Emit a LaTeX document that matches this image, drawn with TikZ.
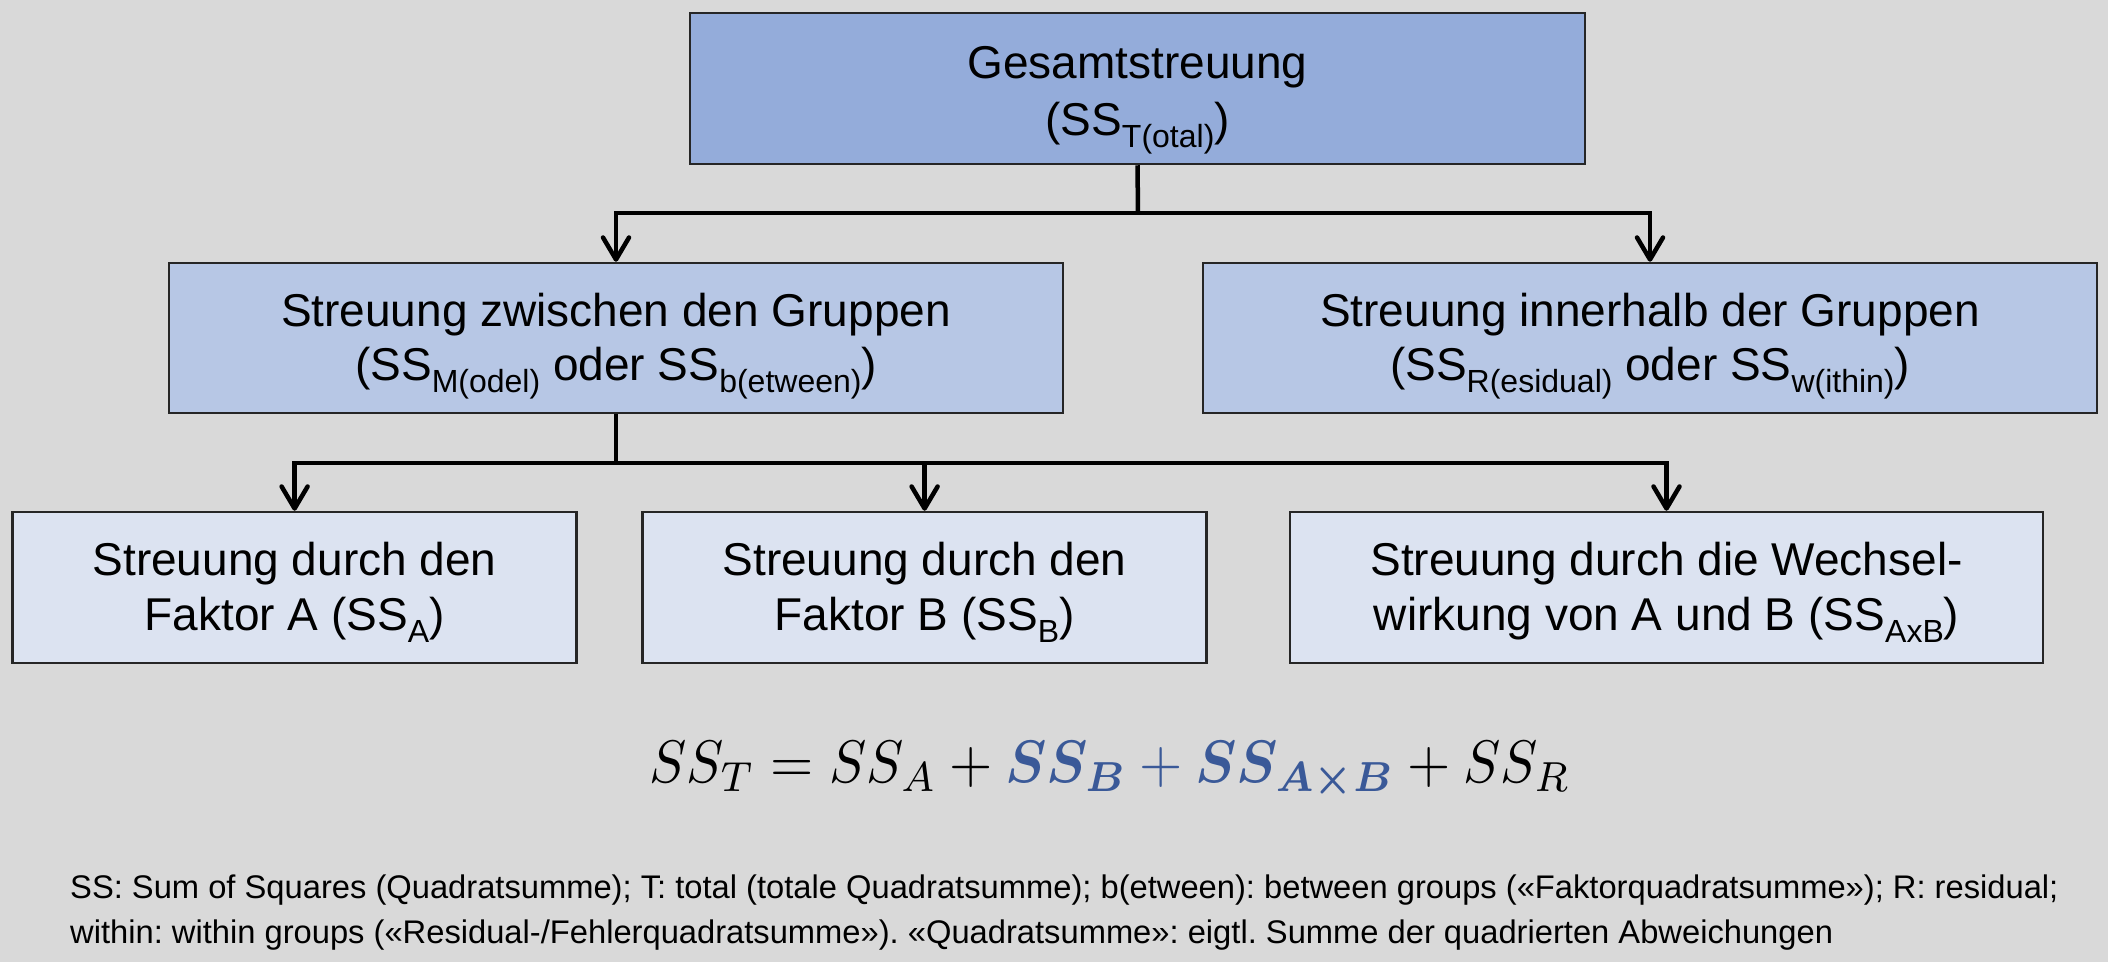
\documentclass[tikz,border=0pt]{standalone}
\usepackage[no-math]{fontspec}
\setmainfont{Liberation Sans}
\usepackage{amsmath,bm,graphicx}
\usetikzlibrary{arrows.meta}
\definecolor{bgc}{RGB}{217,217,217}
\definecolor{topfill}{RGB}{148,172,218}
\definecolor{midfill}{RGB}{183,199,229}
\definecolor{lowfill}{RGB}{220,227,241}
\definecolor{eqblue}{RGB}{58,89,152}
\newcommand\sbs[1]{\raisebox{-12pt}{\fontsize{32}{32}\selectfont #1}}
\tikzset{
  box/.style={draw=black!85, line width=2.5pt, inner sep=0pt},
  topbox/.style={box, fill=topfill, minimum width=895pt, minimum height=151pt},
  midbox/.style={box, fill=midfill, minimum width=894pt, minimum height=150pt},
  lowbox/.style={box, fill=lowfill, minimum height=151pt},
  btext/.style={inner sep=0pt, anchor=base, font={\fontsize{46}{55}\selectfont}, text=black},
  conn/.style={line width=4.5pt, black},
  arr/.style={conn, -{Straight Barb[length=22pt,width=26pt,round]}},
  foot/.style={font={\fontsize{32.7}{40}\selectfont\frenchspacing}, inner sep=0pt, anchor=base west},
}
\begin{document}
\begin{tikzpicture}[x=1pt,y=-1pt]
\fill[bgc] (0,0) rectangle (2108,962);
\useasboundingbox (0,0) rectangle (2108,962);
% boxes
\node[topbox] (top) at (1137.5,88.5) {};
\node[midbox] (midL) at (616,338) {};
\node[midbox] (midR) at (1650,338) {};
\node[lowbox, minimum width=564pt] (lowA) at (294.6,587.5) {};
\node[lowbox, minimum width=564pt] (lowB) at (924.6,587.5) {};
\node[lowbox, minimum width=753pt] (lowAB) at (1666.5,587.5) {};
% texts
\node[btext] (topa) at (top.center |- 0,78) {Gesamtstreuung};
\node[btext] (topb) at (top.center |- 0,135) {(SS\sbs{T(otal)})};
\node[btext] (midLa) at (midL.center |- 0,326) {Streuung zwischen den Gruppen};
\node[btext] (midLb) at (midL.center |- 0,380) {(SS\sbs{M(odel)} oder SS\sbs{b(etween)})};
\node[btext] (midRa) at (midR.center |- 0,326) {Streuung innerhalb der Gruppen};
\node[btext] (midRb) at (midR.center |- 0,380) {(SS\sbs{R(esidual)} oder SS\sbs{w(ithin)})};
\node[btext] (lowAa) at (lowA.center |- 0,575) {Streuung durch den};
\node[btext] (lowAb) at (lowA.center |- 0,630) {Faktor A (SS\sbs{A})};
\node[btext] (lowBa) at (lowB.center |- 0,575) {Streuung durch den};
\node[btext] (lowBb) at (lowB.center |- 0,630) {Faktor B (SS\sbs{B})};
\node[btext] (lowABa) at (lowAB.center |- 0,575) {Streuung durch die Wechsel-};
\node[btext] (lowABb) at (lowAB.center |- 0,630) {wirkung von A und B (SS\sbs{AxB})};
% connectors
\coordinate (j1) at (1138,213);
\coordinate (j2) at (616,463);
\draw[conn] (top.south) -- (j1);
\draw[arr] (j1) -| (midL.north);
\draw[arr] (j1) -| (midR.north);
\draw[conn] (midL.south) -- (j2);
\draw[arr] (j2) -| (lowA.north);
\draw[arr] (j2) -| (lowB.north);
\draw[arr] (j2) -| (lowAB.north);
% equation
\node[anchor=base, inner sep=0pt] (eq) at (1110,782) {\scalebox{5.56}[6]{$SS_T = SS_A + {\color{eqblue}\bm{SS_B} + \bm{SS_{A\times B}}} + SS_R$}};
% footnote
\node[foot] (f1) at (70,898) {SS: Sum of Squares (Quadratsumme); T: total (totale Quadratsumme); b(etween): between groups («Faktorquadratsumme»); R: residual;};
\node[foot] (f2) at (70,943) {within: within groups («Residual-/Fehlerquadratsumme»). «Quadratsumme»: eigtl. Summe der quadrierten Abweichungen};
\end{tikzpicture}
\end{document}
